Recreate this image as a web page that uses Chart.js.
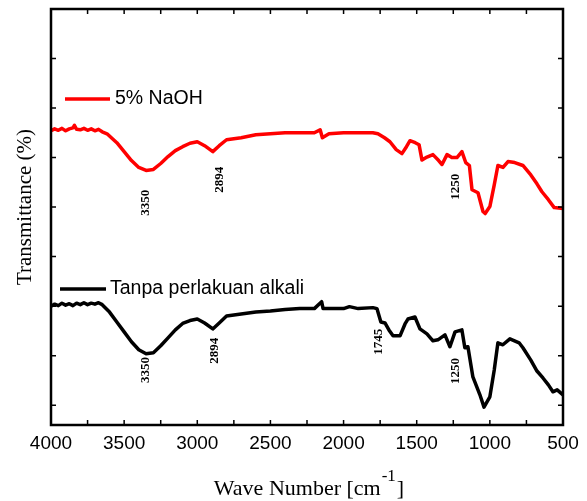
<!DOCTYPE html>
<html>
<head>
<meta charset="utf-8">
<script src="https://cdn.jsdelivr.net/npm/chart.js@4/dist/chart.umd.min.js"></script>
<style>
  body { margin: 0; background: #fff; }
  canvas { display: block; }
</style>
</head>
<body>
<canvas id="ftirChart" width="587" height="501"></canvas>
<script>
// FTIR spectra, wave number [cm-1] vs transmittance (arbitrary offset units)
const naohWave = [4000, 3975, 3950, 3925, 3900, 3875, 3850, 3840, 3825, 3800, 3775, 3750, 3725, 3700, 3675, 3650, 3617, 3550, 3500, 3450, 3400, 3350, 3300, 3250, 3200, 3150, 3100, 3050, 3000, 2950, 2894, 2850, 2800, 2700, 2600, 2500, 2400, 2300, 2200, 2160, 2145, 2100, 2000, 1900, 1800, 1765, 1720, 1683, 1640, 1601, 1570, 1546, 1510, 1484, 1464, 1430, 1389, 1350, 1327, 1293, 1260, 1225, 1191, 1165, 1140, 1122, 1081, 1047, 1032, 1000, 970, 945, 910, 876, 830, 774, 720, 678, 644, 600, 560, 500];
const naohT = [55.4, 55.8, 55.5, 55.9, 55.4, 55.8, 56.0, 56.5, 55.7, 55.6, 55.9, 55.5, 55.8, 55.4, 55.7, 55.2, 54.8, 53.0, 51.2, 49.4, 48.0, 47.4, 47.6, 48.8, 50.2, 51.4, 52.2, 52.9, 53.2, 52.4, 51.2, 52.4, 53.6, 54.0, 54.6, 54.8, 55.0, 55.0, 55.0, 55.6, 54.0, 54.8, 55.0, 55.0, 55.0, 54.8, 54.0, 53.2, 51.6, 50.8, 52.2, 53.4, 53.0, 52.6, 49.5, 50.1, 50.6, 49.4, 48.6, 50.6, 50.0, 50.0, 51.2, 49.0, 48.4, 43.5, 42.9, 39.1, 38.7, 40.1, 44.5, 48.4, 48.0, 49.2, 49.0, 48.4, 46.5, 44.7, 43.1, 41.5, 39.9, 39.7];

const rawWave = [4000, 3975, 3950, 3925, 3900, 3875, 3850, 3825, 3800, 3775, 3750, 3725, 3700, 3675, 3650, 3600, 3550, 3500, 3450, 3400, 3350, 3300, 3250, 3200, 3150, 3100, 3050, 3000, 2950, 2894, 2850, 2800, 2700, 2600, 2500, 2400, 2300, 2200, 2150, 2140, 2000, 1960, 1900, 1800, 1772, 1745, 1717, 1690, 1662, 1614, 1580, 1560, 1512, 1478, 1430, 1389, 1355, 1307, 1273, 1238, 1191, 1171, 1150, 1116, 1068, 1040, 1000, 970, 945, 911, 863, 800, 774, 720, 678, 637, 600, 569, 540, 500];
const rawT = [20.0, 20.4, 20.1, 20.6, 20.2, 20.5, 20.1, 20.6, 20.3, 20.7, 20.3, 20.6, 20.4, 20.7, 20.3, 18.8, 16.8, 14.8, 12.8, 11.2, 10.4, 10.6, 12.0, 13.6, 15.2, 16.5, 17.1, 17.4, 16.6, 15.4, 16.6, 18.0, 18.4, 18.8, 19.0, 19.3, 19.5, 19.5, 20.9, 19.5, 19.5, 19.9, 19.5, 19.7, 19.5, 16.8, 16.6, 15.2, 14.0, 14.0, 16.4, 17.4, 17.8, 15.4, 14.4, 13.0, 13.2, 14.2, 11.8, 14.8, 15.2, 11.6, 11.8, 5.7, 2.1, -0.4, 1.7, 7.1, 12.6, 12.2, 13.4, 12.6, 11.6, 9.1, 6.9, 5.5, 4.1, 2.7, 3.1, 2.1];

const xTicks = [4000, 3500, 3000, 2500, 2000, 1500, 1000, 500];

// peak labels: text, wave number position, transmittance position
const naohPeakText = ['3350', '2894', '1250'];
const naohPeakWave = [3350, 2845, 1235];
const naohPeakT = [40.9, 45.5, 44.1];
const rawPeakText = ['3350', '2894', '1745', '1250'];
const rawPeakWave = [3350, 2879, 1758, 1235];
const rawPeakT = [7.1, 11.0, 12.8, 6.9];

function toPoints(xs, ys) {
    return xs.map(function(x, i) { return { x: x, y: ys[i] }; });
}

// frame with inward ticks on all four sides
const framePlugin = {
    id: 'frame',
    afterDraw(chart) {
        const ctx = chart.ctx;
        const a = chart.chartArea;
        const xs = chart.scales.x;
        const ys = chart.scales.y;
        ctx.save();
        ctx.strokeStyle = '#000';
        ctx.lineWidth = 2.5;
        ctx.strokeRect(a.left, a.top, a.right - a.left, a.bottom - a.top);
        ctx.lineWidth = 1.5;
        ctx.beginPath();
        for (let w = 500; w <= 4000; w += 250) {
            const px = xs.getPixelForValue(w);
            ctx.moveTo(px, a.bottom); ctx.lineTo(px, a.bottom - 5);
            ctx.moveTo(px, a.top); ctx.lineTo(px, a.top + 5);
        }
        for (let v = 0; v <= 80; v += 10) {
            const py = ys.getPixelForValue(v);
            ctx.moveTo(a.left, py); ctx.lineTo(a.left + 5, py);
            ctx.moveTo(a.right, py); ctx.lineTo(a.right - 5, py);
        }
        ctx.stroke();
        ctx.restore();
    }
};

// legends, peak labels and axis titles
const textPlugin = {
    id: 'texts',
    afterDraw(chart) {
        const ctx = chart.ctx;
        const xs = chart.scales.x;
        const ys = chart.scales.y;
        ctx.save();

        // legends
        ctx.lineWidth = 3.5;
        ctx.strokeStyle = '#ff0000';
        ctx.beginPath(); ctx.moveTo(65, 99); ctx.lineTo(110, 99); ctx.stroke();
        ctx.strokeStyle = '#000';
        ctx.beginPath(); ctx.moveTo(60, 289); ctx.lineTo(106, 289); ctx.stroke();
        ctx.fillStyle = '#000';
        ctx.font = '19.5px "Liberation Sans", Arial, sans-serif';
        ctx.textAlign = 'left';
        ctx.textBaseline = 'middle';
        ctx.fillText('5% NaOH', 115, 99);
        ctx.fillText('Tanpa perlakuan alkali', 110, 289);

        // peak labels
        ctx.font = 'bold 13px "Liberation Serif", "Times New Roman", serif';
        ctx.textAlign = 'center';
        function peak(t, w, v) {
            ctx.save();
            ctx.translate(xs.getPixelForValue(w), ys.getPixelForValue(v));
            ctx.rotate(-Math.PI / 2);
            ctx.fillText(t, 0, 0);
            ctx.restore();
        }
        naohPeakText.forEach(function(t, i) { peak(t, naohPeakWave[i], naohPeakT[i]); });
        rawPeakText.forEach(function(t, i) { peak(t, rawPeakWave[i], rawPeakT[i]); });

        // y title
        ctx.font = '21px "Liberation Serif", "Times New Roman", serif';
        ctx.save();
        ctx.translate(25, 207);
        ctx.rotate(-Math.PI / 2);
        ctx.fillText('Transmittance (%)', 0, 0);
        ctx.restore();

        // x title with superscript
        ctx.textAlign = 'left';
        ctx.textBaseline = 'alphabetic';
        const main = 'Wave Number [cm';
        const sup = '-1';
        ctx.font = '22px "Liberation Serif", "Times New Roman", serif';
        const w1 = ctx.measureText(main).width;
        ctx.font = '17px "Liberation Serif", "Times New Roman", serif';
        const w2 = ctx.measureText(sup).width;
        ctx.font = '22px "Liberation Serif", "Times New Roman", serif';
        const w3 = ctx.measureText(']').width;
        let x0 = 308 - (w1 + w2 + w3) / 2;
        ctx.fillText(main, x0, 495);
        ctx.font = '17px "Liberation Serif", "Times New Roman", serif';
        ctx.fillText(sup, x0 + w1 + 1, 481);
        ctx.font = '22px "Liberation Serif", "Times New Roman", serif';
        ctx.fillText(']', x0 + w1 + w2 + 2, 495);
        ctx.restore();
    }
};

const ftirChart = new Chart(document.getElementById('ftirChart').getContext('2d'), {
    type: 'line',
    data: {
        datasets: [{
            label: '5% NaOH',
            data: toPoints(naohWave, naohT),
            borderColor: '#ff0000',
            borderWidth: 3.5,
            borderJoinStyle: 'round',
            pointRadius: 0,
            fill: false
        }, {
            label: 'Tanpa perlakuan alkali',
            data: toPoints(rawWave, rawT),
            borderColor: '#000000',
            borderWidth: 3.5,
            borderJoinStyle: 'round',
            pointRadius: 0,
            fill: false
        }]
    },
    options: {
        responsive: false,
        animation: false,
        devicePixelRatio: 1,
        layout: { padding: { left: 0, right: 24, top: 9, bottom: 0 } },
        plugins: {
            legend: { display: false },
            tooltip: { enabled: false }
        },
        scales: {
            x: {
                type: 'linear',
                reverse: true,
                min: 500,
                max: 4000,
                afterBuildTicks: function(scale) {
                    scale.ticks = xTicks.map(function(v) { return { value: v }; });
                },
                ticks: {
                    color: '#000',
                    padding: 7,
                    maxRotation: 0,
                    autoSkip: false,
                    callback: function(value) { return String(value); },
                    font: { family: '"Liberation Sans", Arial, sans-serif', size: 19 }
                },
                grid: { display: false, drawTicks: false },
                border: { display: false },
                afterFit: function(scale) { scale.height = 76; }
            },
            y: {
                min: -4,
                max: 80,
                ticks: { display: false, stepSize: 10 },
                grid: { display: false, drawTicks: false },
                border: { display: false },
                afterFit: function(scale) { scale.width = 51; }
            }
        }
    },
    plugins: [framePlugin, textPlugin]
});
</script>
</body>
</html>
